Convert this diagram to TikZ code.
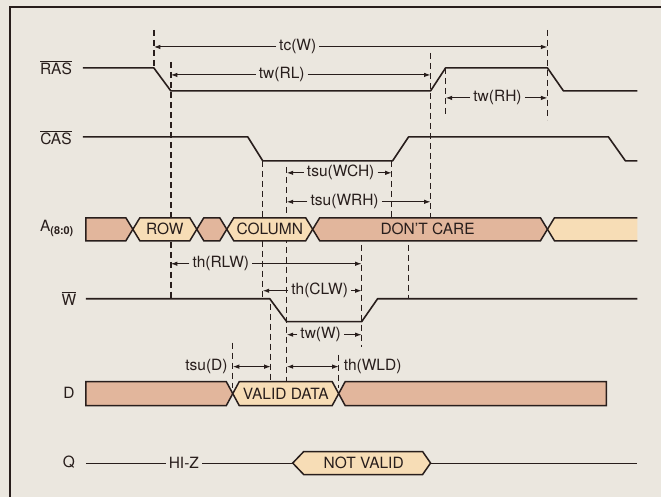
\documentclass[tikz,border=0pt]{standalone}
\usepackage{fontspec}
\setmainfont{TeX Gyre Heros}
\usetikzlibrary{arrows.meta}
\definecolor{paper}{RGB}{235,231,223}
\definecolor{ink}{RGB}{40,30,28}
\definecolor{busdark}{RGB}{226,182,156}
\definecolor{buslight}{RGB}{247,221,182}

\begin{document}
\begin{tikzpicture}[x=1pt, y=-1pt,
  >={Latex[length=6.5pt,width=4.5pt]},
  wave/.style={draw=ink, line width=1.6pt, line join=round},
  bus/.style={draw=ink, line width=1.5pt},
  guide/.style={draw=ink, line width=1.4pt, dash pattern=on 6pt off 4pt},
  dim/.style={->, draw=ink, line width=1pt},
  sig/.style={font=\fontsize{15.5}{17}\selectfont, text=ink},
  tlab/.style={font=\fontsize{15.5}{17}\selectfont, text=ink, inner xsep=3pt, inner ysep=1pt},
  buslab/.style={font=\fontsize{15.5}{17}\selectfont, text=ink}
]

% Paper and frame
\fill[paper] (0,0) rectangle (662,497);
\draw[ink, line width=1.3pt] (10,497) -- (10,7) -- (662,7);

% Timing guides (name / x / top / bottom)
\foreach \n/\x/\a/\b in {rasfall/154/30/68, raslow/171/62/299, dvalid/233/343/388,
    caslow/263/161/299, wfall/271/304/382, wlow/287/167/382, dend/339/355/388,
    wrise/362/245/347, casrise/392/161/218, whigh/409/245/299, rasrise/431/53/218,
    rashigh/446/68/115, rasnext/548/30/120}
  {\coordinate (\n) at (\x,\a);
   \draw[guide] (\n) -- (\x,\b);}

% Signal names
\node[sig] (ras) at (56,68) {$\overline{\mbox{RAS}}$};
\node[sig] (cas) at (56,138) {$\overline{\mbox{CAS}}$};
\node[sig] (addr) at (57,229) {A\textsubscript{\bfseries (8:0)}};
\node[sig] (we) at (69,299) {$\overline{\mbox{W}}$};
\node[sig] (din) at (69,393) {D};
\node[sig] (dout) at (69,463) {Q};

% RAS, CAS and W
\draw[wave] (83,68) -- (154,68) -- (171,91) -- (431,91) -- (446,68) -- (548,68) -- (564,91) -- (638,91);
\draw[wave] (83,137) -- (248,137) -- (263,161) -- (393,161) -- (409,137) -- (609,137) -- (626,161) -- (638,161);
\draw[wave] (86,299) -- (270,299) -- (287,322) -- (362,322) -- (378,299) -- (638,299);

% Address bus
\filldraw[bus, fill=busdark] (133,229.5) -- (126,218) -- (86,218) -- (86,241) -- (126,241) -- cycle;
\foreach \a/\b/\col in {133/197/buslight, 197/227/busdark, 227/313/buslight, 313/548/busdark}
  \filldraw[bus, fill=\col] (\a,229.5) -- (\a+7,218) -- (\b-7,218) -- (\b,229.5) -- (\b-7,241) -- (\a+7,241) -- cycle;
\fill[buslight] (548,229.5) -- (555,218) -- (638,218) -- (638,241) -- (555,241) -- cycle;
\draw[bus] (638,218) -- (555,218) -- (548,229.5) -- (555,241) -- (638,241);
\node[buslab] (row) at (165,229.5) {ROW};
\node[buslab] (col) at (270,229.5) {COLUMN};
\node[buslab] (dc) at (428,229.5) {DON'T CARE};

% Data in
\filldraw[bus, fill=busdark] (233,394) -- (226.5,382) -- (86,382) -- (86,406) -- (226.5,406) -- cycle;
\filldraw[bus, fill=buslight] (233,394) -- (239.5,382) -- (332.5,382) -- (339,394) -- (332.5,406) -- (239.5,406) -- cycle;
\filldraw[bus, fill=busdark] (339,394) -- (345.5,382) -- (607,382) -- (607,406) -- (345.5,406) -- cycle;
\node[buslab] (vd) at (286,394) {VALID DATA};

% Data out
\coordinate (qstart) at (86,463.5);
\coordinate (qend) at (638,463.5);
\filldraw[bus, fill=buslight] (293,463.5) -- (304,452) -- (423,452) -- (431,463.5) -- (423,475) -- (304,475) -- cycle;
\coordinate (nvl) at (293,463.5);
\coordinate (nvr) at (431,463.5);
\node[buslab] (nv) at (364,463.5) {NOT VALID};
\node[tlab] (hiz) at (184,463.5) {HI-Z};
\draw[ink, line width=1.1pt] (qstart) -- (hiz);
\draw[ink, line width=1.1pt] (hiz) -- (nvl);
\draw[ink, line width=1.1pt] (nvr) -- (qend);

% RAS timing
\node[tlab] (tcw) at (298,47) {tc(W)};
\draw[dim] (tcw) -- (tcw -| rasfall);
\draw[dim] (tcw) -- (tcw -| rasnext);
\node[tlab] (twrl) at (282,75) {tw(RL)};
\draw[dim] (twrl) -- (twrl -| raslow);
\draw[dim] (twrl) -- (twrl -| rasrise);
\node[tlab] (twrh) at (498,98) {tw(RH)};
\draw[dim] (twrh) -- (twrh -| rashigh);
\draw[dim] (twrh) -- (twrh -| rasnext);

% Write setup
\node[tlab] (tsuwch) at (341,173) {tsu(WCH)};
\draw[dim] (tsuwch) -- (tsuwch -| wlow);
\draw[dim] (tsuwch) -- (tsuwch -| casrise);
\node[tlab] (tsuwrh) at (345,202) {tsu(WRH)};
\draw[dim] (tsuwrh) -- (tsuwrh -| wlow);
\draw[dim] (tsuwrh) -- (tsuwrh -| rasrise);

% Write hold and width
\node[tlab] (thrlw) at (221,264) {th(RLW)};
\draw[dim] (thrlw) -- (thrlw -| raslow);
\draw[dim] (thrlw) -- (thrlw -| wrise);
\node[tlab] (thclw) at (320,291) {th(CLW)};
\draw[dim] (thclw) -- (thclw -| caslow);
\draw[dim] (thclw) -- (thclw -| wrise);
\node[tlab] (tww) at (321,335) {tw(W)};
\draw[dim] (tww) -- (tww -| wlow);
\draw[dim] (tww) -- (tww -| wrise);

% Data setup and hold
\node[tlab, anchor=east] (tsud) at (231,367) {tsu(D)};
\draw[dim, <->] (tsud.east -| dvalid) -- (tsud.east -| wfall);
\node[tlab, anchor=west] (thwld) at (341,367) {th(WLD)};
\draw[dim, <->] (thwld.west -| wlow) -- (thwld.west -| dend);

\end{tikzpicture}
\end{document}
